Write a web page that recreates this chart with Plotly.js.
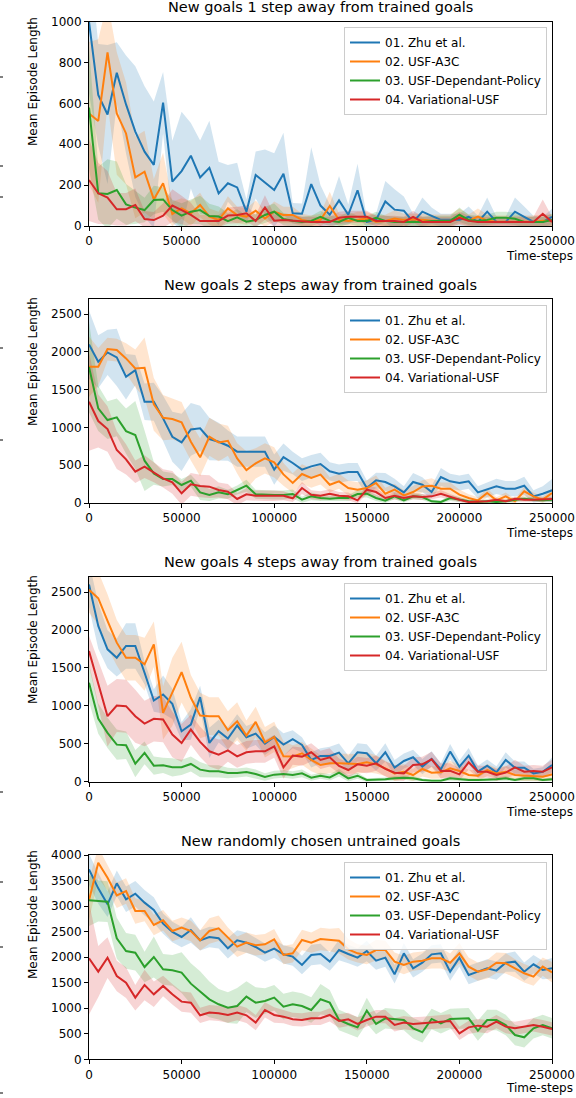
<!DOCTYPE html>
<html>
<head>
<meta charset="utf-8">
<script src="https://cdn.plot.ly/plotly-3.0.1.min.js"></script>
<style>
  html, body { margin: 0; padding: 0; background: #fff; }
  #chart { width: 576px; height: 1098px; }
</style>
</head>
<body>
<div id="chart"></div>
<script>
/* ---------------- data ---------------- */
var timeSteps = [0,5000,10000,15000,20000,25000,30000,35000,40000,45000,
  50000,55000,60000,65000,70000,75000,80000,85000,90000,95000,
  100000,105000,110000,115000,120000,125000,130000,135000,140000,145000,
  150000,155000,160000,165000,170000,175000,180000,185000,190000,195000,
  200000,205000,210000,215000,220000,225000,230000,235000,240000,245000,250000];

var seriesNames = ['01. Zhu et al.', '02. USF-A3C', '03. USF-Dependant-Policy', '04. Variational-USF'];
var panelTitles = ['New goals 1 step away from trained goals',
  'New goals 2 steps away from trained goals',
  'New goals 4 steps away from trained goals',
  'New randomly chosen untrained goals'];
var xTicks = [0, 50000, 100000, 150000, 200000, 250000];
var yTicks1 = [0, 200, 400, 600, 800, 1000];
var yTicks2 = [0, 500, 1000, 1500, 2000, 2500];
var yTicks3 = [0, 500, 1000, 1500, 2000, 2500];
var yTicks4 = [0, 500, 1000, 1500, 2000, 2500, 3000, 3500, 4000];

// panel 1: 1 step away
var p1Zhu = [1000,641,546,750,595,462,364,299,604,217,269,344,238,285,160,209,189,70,250,214,176,256,62,60,205,100,55,125,55,175,20,30,120,80,75,20,70,50,30,30,30,45,20,70,20,20,70,45,20,20,45];
var p1ZhuStd = [350,250,340,150,240,320,320,310,150,200,290,160,180,230,155,90,120,60,115,160,180,200,50,50,180,100,50,120,50,130,25,30,100,100,70,40,70,40,30,30,30,50,30,70,25,25,70,50,30,25,40];
var p1Usf = [551,514,850,551,453,238,266,130,209,59,86,62,103,46,30,86,54,46,75,37,70,54,54,30,21,30,98,30,25,30,37,21,25,37,30,30,30,26,26,26,46,26,46,26,21,21,21,21,21,26,26];
var p1UsfStd = [350,400,250,300,250,200,200,100,150,60,50,60,60,40,40,60,40,40,50,40,50,40,40,30,30,30,70,30,30,40,30,30,30,40,30,30,30,30,30,30,40,30,40,30,30,30,30,30,30,30,30];
var p1Dep = [580,160,157,176,106,90,78,127,130,78,51,70,78,49,46,24,42,21,29,54,70,34,26,20,25,45,25,20,40,25,25,40,25,20,20,20,20,25,25,25,55,30,25,30,40,40,35,20,20,20,30];
var p1DepStd = [300,130,170,140,100,80,60,70,60,50,60,60,70,60,50,40,40,30,30,40,40,30,30,25,25,30,25,25,30,25,25,30,25,25,25,25,25,25,25,25,35,25,25,25,30,30,30,25,25,25,30];
var p1Var = [225,160,139,82,82,103,34,29,51,100,78,54,24,24,24,51,54,62,24,91,26,29,26,20,20,20,20,40,45,45,45,25,25,25,20,45,20,20,20,20,40,25,20,20,20,20,20,20,20,60,20];
var p1VarStd = [200,150,130,80,80,80,40,40,60,80,70,60,30,30,30,40,40,40,30,60,30,30,30,25,25,25,25,30,30,30,30,25,25,25,25,30,25,25,25,25,30,25,25,25,25,25,25,25,25,70,25];

// panel 2: 2 steps away
var p2Zhu = [2099,1869,1993,1927,1671,1759,1340,1340,1120,877,802,974,988,847,811,758,679,679,679,679,441,608,529,441,485,516,419,388,410,410,198,300,278,220,141,278,242,145,344,287,265,287,141,176,220,190,190,229,88,123,168];
var p2ZhuStd = [450,350,300,380,300,200,240,250,300,330,380,350,300,280,250,200,200,200,200,200,200,180,150,150,150,150,120,120,120,120,100,100,120,100,80,120,100,80,120,100,100,100,80,100,100,100,100,120,80,100,150];
var p2Usf = [1803,1803,2037,2024,1914,1781,1790,1305,1129,1111,1067,811,604,877,802,824,591,436,525,591,538,379,265,384,331,375,242,287,198,176,198,265,123,176,101,145,220,229,190,190,110,66,35,132,35,88,22,154,88,44,132];
var p2UsfStd = [400,250,150,150,200,250,400,350,300,270,270,250,250,250,250,200,200,250,200,200,200,150,130,130,130,130,100,100,100,100,100,100,80,80,70,80,80,100,80,80,70,50,40,60,40,50,30,60,50,40,60];
var p2Dep = [1800,1252,1098,1133,952,900,560,392,317,317,238,295,141,106,141,115,172,229,115,106,106,106,119,44,88,66,57,66,66,119,123,66,31,88,35,88,79,22,13,66,44,22,13,22,13,22,44,57,44,35,44];
var p2DepStd = [600,300,250,250,300,450,400,150,100,80,80,80,100,80,80,60,60,80,60,60,60,60,60,40,50,40,40,40,40,50,50,40,30,40,30,40,40,25,20,40,30,25,20,25,20,25,30,30,30,25,30];
var p2Var = [1340,1085,979,701,578,414,481,406,326,273,128,247,225,216,172,150,53,115,97,97,97,97,62,198,110,97,123,97,88,35,176,145,66,97,66,88,79,88,123,79,44,13,22,22,44,22,57,44,44,53,53];
var p2VarStd = [650,350,300,250,200,150,150,130,120,150,150,150,150,150,100,100,80,80,70,70,70,60,50,80,60,60,60,50,50,40,60,60,40,50,40,40,40,40,50,40,30,20,20,20,30,20,30,30,30,30,30];

// panel 3: 4 steps away
var p3Zhu = [2600,2055,1746,1636,1790,1790,1437,1071,1151,1027,666,754,1115,511,666,569,741,586,635,503,591,489,560,485,287,340,340,384,243,388,375,243,388,185,273,322,198,300,163,397,198,344,132,212,123,287,185,185,110,132,220];
var p3ZhuStd = [300,300,250,250,300,300,150,150,250,200,120,200,150,200,150,150,150,150,150,150,150,150,120,100,100,100,120,120,100,120,120,100,120,100,100,100,100,100,80,100,80,100,80,80,80,100,80,80,60,60,100];
var p3Usf = [2531,2420,2121,1834,1636,1636,1548,1812,908,1186,1446,1107,873,864,864,679,798,608,789,520,591,335,331,375,287,220,243,243,234,234,256,229,176,110,132,88,168,119,123,176,141,88,79,154,110,132,88,79,66,66,97];
var p3UsfStd = [300,350,350,300,300,300,350,300,350,450,400,300,300,250,250,250,250,200,200,200,200,200,150,150,150,130,130,130,130,130,130,120,100,100,100,80,100,80,80,100,80,70,70,80,70,80,70,70,60,60,80];
var p3Dep = [1305,833,644,489,481,238,379,212,216,190,190,234,159,137,137,115,115,128,101,62,93,101,88,110,53,79,57,119,44,79,22,22,31,44,53,44,22,13,13,44,31,22,22,22,31,44,22,44,44,22,31];
var p3DepStd = [250,200,200,200,180,180,150,120,100,120,100,100,100,80,80,70,60,60,60,50,50,50,50,50,40,40,40,50,40,40,25,25,25,30,30,30,20,15,15,30,25,20,20,20,25,30,20,30,30,20,25];
var p3Var = [1724,1305,864,1005,996,864,767,829,820,622,511,688,525,401,357,414,335,388,401,401,467,190,344,331,388,287,322,207,154,229,212,243,168,119,110,220,229,295,141,145,97,256,132,132,88,119,190,132,141,132,190];
var p3VarStd = [200,300,400,350,350,350,300,300,300,300,250,200,200,200,200,150,150,150,150,150,150,150,120,120,120,120,120,100,100,100,100,100,100,100,100,100,100,100,100,100,80,100,80,80,80,80,100,80,80,80,100];

// panel 4: random untrained goals
var p4Zhu = [3719,3347,3034,3445,3132,3243,3067,2923,2656,2493,2395,2532,2329,2395,2369,2173,2329,2284,2199,2088,2166,2055,2010,1847,2042,2062,1912,2140,2062,1990,2121,1931,1990,1664,2075,1781,1892,2055,2075,1716,1990,1651,1716,1781,1736,1892,1912,1716,1860,1749,1781];
var p4ZhuStd = [300,300,250,250,250,250,250,250,200,200,200,250,200,200,200,200,200,200,180,180,180,180,180,180,200,200,180,200,180,180,200,180,180,180,200,180,180,180,180,180,180,180,180,180,180,180,200,180,180,180,200];
var p4Usf = [3112,3850,3556,3210,3295,2904,2904,2630,2721,2512,2577,2512,2329,2512,2564,2382,2205,2284,2232,2251,2349,2042,2075,2336,2284,2356,2336,2323,2153,2075,2042,2140,2140,1912,1847,1912,1931,1977,1977,1892,2075,1814,1716,1762,1892,1879,1781,1684,1618,1814,1703];
var p4UsfStd = [400,300,250,250,250,250,200,200,200,200,200,200,200,250,250,200,200,200,200,200,200,180,180,200,200,220,220,250,200,180,180,200,180,180,180,180,180,200,200,180,200,180,180,180,200,200,180,180,180,180,200];
var p4Dep = [3112,3099,3086,2369,2121,2088,1807,2003,1762,1742,1697,1481,1325,1174,1077,1011,1044,1227,1109,1142,1207,1031,1077,1044,966,1175,1109,770,692,626,953,692,803,790,770,607,529,790,705,790,790,803,561,770,770,672,476,431,607,672,607];
var p4DepStd = [500,400,400,400,350,350,300,400,300,300,400,400,400,350,300,300,350,300,300,250,250,250,250,250,250,300,250,200,200,200,250,200,200,200,200,200,200,200,200,200,200,200,200,200,200,200,200,200,200,200,200];
var p4Var = [1977,1716,1990,1631,1501,1207,1455,1272,1436,1272,1129,1109,861,914,900,868,914,861,718,966,868,835,783,770,803,803,868,750,783,692,770,835,835,672,718,692,705,718,737,750,509,626,659,639,737,639,607,639,672,639,594];
var p4VarStd = [1100,500,400,300,300,250,300,250,200,200,200,200,150,150,150,150,150,150,150,150,150,130,130,130,130,130,130,130,130,130,130,130,130,130,130,130,130,130,130,130,130,130,130,130,130,130,130,130,130,130,130];

/* ---------------- styling ---------------- */
var lineColors = ['#1f77b4', '#ff7f0e', '#2ca02c', '#d62728'];
var bandColors = ['rgba(31,119,180,0.2)', 'rgba(255,127,14,0.2)', 'rgba(44,160,44,0.2)', 'rgba(214,39,40,0.2)'];
var FONT = 'DejaVu Sans, Liberation Sans, sans-serif';
var W = 576, H = 1098;

var panels = [
  {means: [p1Zhu, p1Usf, p1Dep, p1Var], stds: [p1ZhuStd, p1UsfStd, p1DepStd, p1VarStd], yMax: 1000, yTicks: yTicks1, top: 21.7, bottom: 226, titleY: 7, labelY: 82, xlabY: 256, legTop: 27},
  {means: [p2Zhu, p2Usf, p2Dep, p2Var], stds: [p2ZhuStd, p2UsfStd, p2DepStd, p2VarStd], yMax: 2700, yTicks: yTicks2, top: 299, bottom: 503, titleY: 285, labelY: 362, xlabY: 533, legTop: 305},
  {means: [p3Zhu, p3Usf, p3Dep, p3Var], stds: [p3ZhuStd, p3UsfStd, p3DepStd, p3VarStd], yMax: 2700, yTicks: yTicks3, top: 577, bottom: 781.7, titleY: 562, labelY: 640, xlabY: 812, legTop: 583},
  {means: [p4Zhu, p4Usf, p4Dep, p4Var], stds: [p4ZhuStd, p4UsfStd, p4DepStd, p4VarStd], yMax: 4000, yTicks: yTicks4, top: 855, bottom: 1059.3, titleY: 841, labelY: 915, xlabY: 1088, legTop: 862}
];

var plotLeft = 89, plotRight = 552;
var traces = [];
var annotations = [];
var layout = {
  width: W, height: H,
  margin: {l: 0, r: 0, t: 0, b: 0},
  paper_bgcolor: '#fff', plot_bgcolor: '#fff',
  font: {family: FONT, size: 12, color: '#000'},
  showlegend: true
};

function py(v) { return 1 - v / H; }

panels.forEach(function (p, i) {
  var n = i === 0 ? '' : String(i + 1);
  var xa = 'x' + n, ya = 'y' + n;
  var legName = 'legend' + n;

  /* ---------------- bands first ---------------- */
  for (var s = 0; s < 4; s++) {
    var upper = p.means[s].map(function (m, k) { return m + p.stds[s][k]; });
    var lower = p.means[s].map(function (m, k) { return m - p.stds[s][k]; });
    traces.push({
      x: timeSteps.concat(timeSteps.slice().reverse()),
      y: upper.concat(lower.slice().reverse()),
      xaxis: xa, yaxis: ya,
      type: 'scatter', mode: 'lines', fill: 'toself',
      fillcolor: bandColors[s], line: {width: 0, color: bandColors[s]},
      hoverinfo: 'skip', showlegend: false
    });
  }
  /* ---------------- mean lines ---------------- */
  for (var s2 = 0; s2 < 4; s2++) {
    traces.push({
      x: timeSteps, y: p.means[s2],
      xaxis: xa, yaxis: ya,
      type: 'scatter', mode: 'lines',
      name: seriesNames[s2],
      line: {color: lineColors[s2], width: 2},
      legend: legName
    });
  }

  layout['xaxis' + n] = {
    domain: [plotLeft / W, plotRight / W],
    anchor: ya,
    range: [0, 250000],
    tickvals: xTicks, tickformat: 'd',
    ticks: 'outside', ticklen: 4, tickwidth: 1, tickcolor: '#000',
    showline: true, mirror: true, linecolor: '#000', linewidth: 1,
    showgrid: false, zeroline: false,
    tickfont: {family: FONT, size: 12, color: '#000'}
  };
  layout['yaxis' + n] = {
    domain: [py(p.bottom), py(p.top)],
    anchor: xa,
    range: [0, p.yMax],
    tickvals: p.yTicks, tickformat: 'd',
    ticks: 'outside', ticklen: 4, tickwidth: 1, tickcolor: '#000',
    showline: true, mirror: true, linecolor: '#000', linewidth: 1,
    showgrid: false, zeroline: false,
    tickfont: {family: FONT, size: 12, color: '#000'}
  };
  layout[legName] = {
    x: 547 / W, xanchor: 'right',
    y: py(p.legTop), yanchor: 'top',
    bgcolor: 'rgba(255,255,255,0.8)',
    bordercolor: '#cccccc', borderwidth: 1,
    font: {family: FONT, size: 12, color: '#000'},
    itemwidth: 30, tracegroupgap: 0
  };

  annotations.push({
    xref: 'paper', yref: 'paper',
    x: (plotLeft + plotRight) / 2 / W, y: py(p.titleY),
    xanchor: 'center', yanchor: 'middle', showarrow: false,
    text: panelTitles[i],
    font: {family: FONT, size: 14.5, color: '#000'}
  });
  annotations.push({
    xref: 'paper', yref: 'paper',
    x: 33 / W, y: py(p.labelY),
    xanchor: 'center', yanchor: 'middle', showarrow: false,
    textangle: -90,
    text: 'Mean Episode Length',
    font: {family: FONT, size: 12, color: '#000'}
  });
  annotations.push({
    xref: 'paper', yref: 'paper',
    x: 575 / W, y: py(p.xlabY),
    xanchor: 'right', yanchor: 'middle', showarrow: false,
    text: 'Time-steps',
    font: {family: FONT, size: 12, color: '#000'}
  });
});

layout.annotations = annotations;

// stray tick marks on the left margin (from a neighbouring figure)
var strayMarks = [77, 166, 197, 348, 440, 792, 882, 947, 1093];
layout.shapes = strayMarks.map(function (yy) {
  return {type: 'line', xref: 'paper', yref: 'paper',
    x0: 0, x1: 3 / W, y0: py(yy), y1: py(yy),
    line: {color: '#000', width: 1}};
});

Plotly.newPlot('chart', traces, layout, {displayModeBar: false, staticPlot: true});
</script>
</body>
</html>
